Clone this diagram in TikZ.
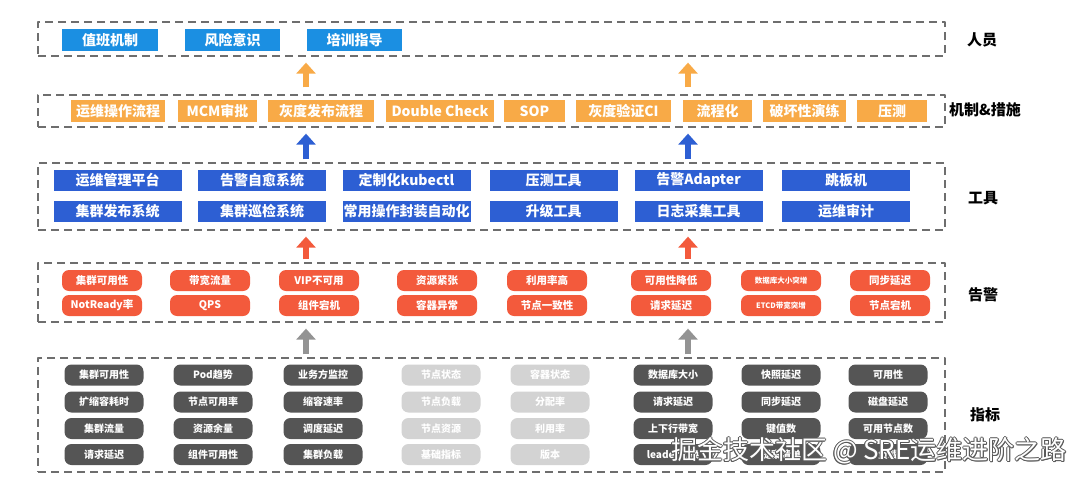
\documentclass[tikz,border=0pt]{standalone}
\usepackage{fontspec}
\setmainfont{Noto Sans CJK SC}
\usetikzlibrary{arrows.meta}
\definecolor{skyblue}{HTML}{1B8FE2}
\definecolor{toolblue}{HTML}{2D5FD3}
\definecolor{mechorange}{HTML}{F8AA47}
\definecolor{alarmred}{HTML}{F35A3C}
\definecolor{metricdark}{HTML}{555555}
\definecolor{metriclight}{HTML}{D3D3D3}
\definecolor{framegray}{HTML}{6E6E6E}
\definecolor{markgray}{HTML}{5A5A5A}
\begin{document}
\begin{tikzpicture}[x=1pt, y=-1pt, line join=round,
		frame/.style={draw=framegray, line width=1.3pt, dash pattern=on 8pt off 5pt, minimum width=907pt, inner sep=0pt},
		tag/.style={font=\bfseries\fontsize{15}{15}\selectfont},
		flatbox/.style={fill=#1, text=white, minimum height=22pt, inner sep=0pt, font=\bfseries\fontsize{14}{14}\selectfont},
		pill/.style={fill=#1, text=white, rounded corners=7pt, minimum height=21pt, inner sep=0pt, font=\bfseries\fontsize{10.5}{10.5}\selectfont},
		uparrow/.style={draw=#1, line width=6pt, -{Triangle[width=19pt,length=11pt]}, shorten <=3pt, shorten >=6pt}]
	\useasboundingbox (0,0) rectangle (1074,482);
	% layers
	\node[frame, minimum height=34pt] (staff) at (491.5,39) {};
	\node[frame, minimum height=32pt] (mech) at (491.5,111) {};
	\node[frame, minimum height=67pt] (tool) at (491.5,196.5) {};
	\node[frame, minimum height=59pt] (alarm) at (491.5,292.5) {};
	\node[frame, minimum height=114pt] (metric) at (491.5,415) {};
	\node[tag] (staffTag) at (982,40) {人员};
	\node[tag] (mechTag) at (985,110) {机制\&措施};
	\node[tag] (toolTag) at (983,198) {工具};
	\node[tag] (alarmTag) at (983,295) {告警};
	\node[tag] (metricTag) at (985,415) {指标};
	% arrows between layers
	\coordinate (la) at (306,0);
	\coordinate (ra) at (688,0);
	\foreach \c in {la,ra}{
		\draw[uparrow=mechorange, shorten <=7pt] (mech.north -| \c) -- (staff.south -| \c);
		\draw[uparrow=toolblue] (tool.north -| \c) -- (mech.south -| \c);
		\draw[uparrow=alarmred] (alarm.north -| \c) -- (tool.south -| \c);
		\draw[uparrow=gray!85] (metric.north -| \c) -- (alarm.south -| \c);
	}
	% 人员
	\foreach \cx/\w/\t [count=\i] in {110/96/值班机制, 232.5/95/风险意识, 354.5/95/培训指导}
		\node[flatbox=skyblue, minimum width=\w pt] (s\i) at (\cx,40) {\t};
	% 机制&措施
	\foreach \cx/\w/\t [count=\i] in {118/94/运维操作流程, 217.5/79/MCM审批, 321/106/灰度发布流程, 440/108/Double Check, 534.5/61/SOP, 623.5/95/灰度验证CI, 717.5/69/流程化, 804.5/83/破坏性演练, 892/70/压测}
		\node[flatbox=mechorange, minimum width=\w pt] (m\i) at (\cx,111) {\t};
	% 工具
	\foreach \cx/\ta/\tb [count=\i] in {117.5/运维管理平台/集群发布系统, 262/告警自愈系统/集群巡检系统, 406.5/定制化kubectl/常用操作封装自动化, 553.5/压测工具/升级工具, 698.5/告警Adapter/日志采集工具, 846/跳板机/运维审计}{
		\node[flatbox=toolblue, minimum width=128pt, minimum height=21pt] (ta\i) at (\cx,180) {\ta};
		\node[flatbox=toolblue, minimum width=128pt, minimum height=21pt] (tb\i) at (\cx,211) {\tb};
	}
	% 告警
	\foreach \cx/\ta/\tb [count=\i] in {102/集群可用性/NotReady率, 210/带宽流量/QPS, 319/VIP不可用/组件宕机, 437/资源紧张/容器异常, 547/利用率高/节点一致性, 671/可用性降低/请求延迟, 890/同步延迟/节点宕机}{
		\node[pill=alarmred, minimum width=80pt] (aa\i) at (\cx,280.5) {\ta};
		\node[pill=alarmred, minimum width=80pt] (ab\i) at (\cx,305.5) {\tb};
	}
	\node[pill=alarmred, minimum width=80pt, font=\bfseries\fontsize{7.5}{7.5}\selectfont] (aa8) at (781,280.5) {数据库大小突增};
	\node[pill=alarmred, minimum width=80pt, font=\bfseries\fontsize{7.5}{7.5}\selectfont] (ab8) at (781,305.5) {ETCD带宽突增};
	% 指标
	\foreach \cx/\fc/\ta/\tb/\tc/\td [count=\i] in {
		104/metricdark/集群可用性/扩缩容耗时/集群流量/请求延迟,
		213/metricdark/Pod趋势/节点可用率/资源余量/组件可用性,
		323/metricdark/业务方监控/缩容速率/调度延迟/集群负载,
		441/metriclight/节点状态/节点负载/节点资源/基础指标,
		550/metriclight/容器状态/分配率/利用率/版本,
		673/metricdark/数据库大小/请求延迟/上下行带宽/leader切换,
		781/metricdark/快照延迟/同步延迟/键值数/提案清单,
		888/metricdark/可用性/磁盘延迟/可用节点数/负载}{
		\node[pill=\fc, minimum width=79pt, font=\bfseries\fontsize{10}{10}\selectfont] (ka\i) at (\cx,375) {\ta};
		\node[pill=\fc, minimum width=79pt, font=\bfseries\fontsize{10}{10}\selectfont] (kb\i) at (\cx,402) {\tb};
		\node[pill=\fc, minimum width=79pt, font=\bfseries\fontsize{10}{10}\selectfont] (kc\i) at (\cx,428.5) {\tc};
		\node[pill=\fc, minimum width=79pt, font=\bfseries\fontsize{10}{10}\selectfont] (kd\i) at (\cx,454.5) {\td};
	}
	% watermark
	\foreach \dx/\dy [count=\i] in {-1/0, 1/0, 0/-1, 0/1, -0.7/-0.7, 0.7/0.7, -0.7/0.7, 0.7/-0.7}
		\node[text=markgray, font=\fontsize{26}{26}\selectfont] (wm\i) at (869+\dx,451+\dy) {掘金技术社区 @ SRE运维进阶之路};
	\node[text=white, font=\fontsize{26}{26}\selectfont] (wm) at (869,451) {掘金技术社区 @ SRE运维进阶之路};
\end{tikzpicture}
\end{document}
